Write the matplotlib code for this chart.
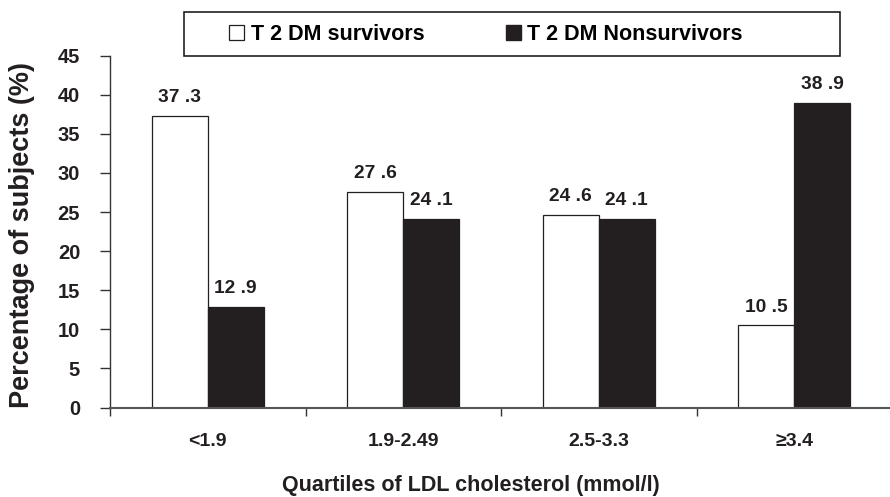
import numpy as np
import matplotlib
matplotlib.use("Agg")
import matplotlib.pyplot as plt
from matplotlib.patches import Patch, Rectangle
from matplotlib.ticker import FixedLocator

plt.rcParams['font.family'] = ['Liberation Sans', 'DejaVu Sans']
plt.rcParams['font.weight'] = 'bold'

categories = ['<1.9', '1.9-2.49', '2.5-3.3', '\u22653.4']
survivors = [37.3, 27.6, 24.6, 10.5]
nonsurvivors = [12.9, 24.1, 24.1, 38.9]
survivor_labels = ['37 .3', '27 .6', '24 .6', '10 .5']
nonsurvivor_labels = ['12 .9', '24 .1', '24 .1', '38 .9']
y_ticks = [0, 5, 10, 15, 20, 25, 30, 35, 40, 45]

dark = '#231f20'
W, H = 890, 497
fig = plt.figure(figsize=(W / 100, H / 100), dpi=100)
ax = fig.add_axes([110 / W, 1 - 407.5 / H, 782 / W, (407.5 - 55.7) / H])

x = np.arange(len(categories))
bw = 0.287
b1 = ax.bar(x - bw / 2, survivors, bw, color='white', edgecolor=dark, linewidth=0.9)
b2 = ax.bar(x + bw / 2, nonsurvivors, bw, color=dark, edgecolor=dark, linewidth=0.9)

for bars, labels in ((b1, survivor_labels), (b2, nonsurvivor_labels)):
    for rect, lab in zip(bars, labels):
        ax.annotate(lab, (rect.get_x() + rect.get_width() / 2, rect.get_height()),
                    xytext=(0, 10), textcoords='offset points',
                    ha='center', va='baseline', fontsize=13.8, fontweight='bold', color=dark)

ax.set_xlim(-0.5, 3.5)
ax.set_ylim(0, 45)
ax.set_yticks(y_ticks)
ax.set_xticks(x)
ax.set_xticklabels(categories)
ax.xaxis.set_minor_locator(FixedLocator(np.arange(-0.5, 3.6, 1.0)))
ax.tick_params(axis='x', which='major', length=0, pad=18, labelsize=14)
ax.tick_params(axis='x', which='minor', length=6, width=1, color='#333333', direction='out')
ax.tick_params(axis='y', length=7.5, width=1, color='#333333', pad=14, labelsize=14.5)
for lab in ax.get_xticklabels() + ax.get_yticklabels():
    lab.set_fontweight('bold')
    lab.set_color(dark)

for s in ('top', 'right'):
    ax.spines[s].set_visible(False)
ax.spines['left'].set_color('#333333')
ax.spines['bottom'].set_color('#555555')
ax.spines['left'].set_linewidth(1.0)
ax.spines['bottom'].set_linewidth(1.5)

ax.set_ylabel('Percentage of subjects (%)', fontsize=19.5, fontweight='bold', color=dark)
ax.yaxis.set_label_coords(-(110 - 35) / 782, 0.49)
fig.text(471 / W, 1 - 490.5 / H, 'Quartiles of LDL cholesterol (mmol/l)',
         ha='center', va='baseline', fontsize=15.5, fontweight='bold', color=dark)

# legend box
fig.patches.append(Rectangle((184 / W, 1 - 56 / H), (840 - 184) / W, (56 - 12.3) / H,
                             transform=fig.transFigure, facecolor='white',
                             edgecolor=dark, linewidth=1.2))
handles = [Patch(facecolor='white', edgecolor=dark, linewidth=0.9),
           Patch(facecolor=dark, edgecolor=dark)]
fig.legend(handles, ['T 2 DM survivors', 'T 2 DM Nonsurvivors'], ncol=2,
           loc='center', bbox_to_anchor=(486 / W, 1 - 34.5 / H), frameon=False,
           prop={'size': 15.5, 'weight': 'bold'}, handlelength=0.7, handleheight=0.7,
           handletextpad=0.3, columnspacing=3.8)

fig.savefig('out.png', dpi=100)
